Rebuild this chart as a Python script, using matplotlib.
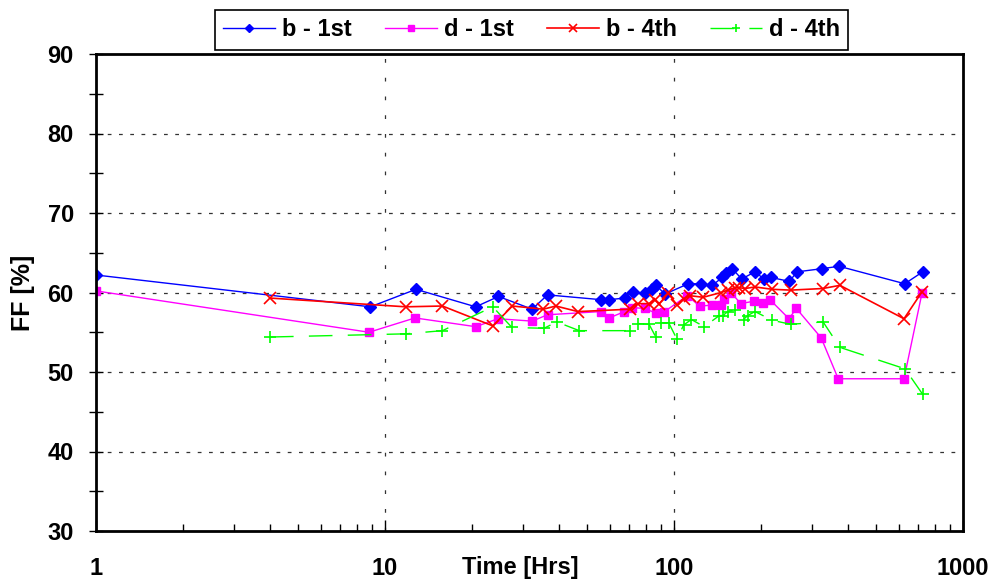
import matplotlib
matplotlib.use("Agg")
import matplotlib.pyplot as plt
from matplotlib.ticker import LogLocator, MultipleLocator, NullFormatter, FixedLocator, FuncFormatter

plt.rcParams['font.family'] = ['Liberation Sans', 'DejaVu Sans']
plt.rcParams['font.weight'] = 'bold'

# b - 1st
b1_t = [1, 8.9, 12.8, 20.6, 24.7, 32.3, 36.5, 55.8, 59.7, 67.5, 71.9, 79.2, 83.7, 86.6,
        93.1, 112, 123.7, 135.7, 147, 151.4, 159, 171.5, 190.6, 204.8, 216, 250.7, 266.6,
        325.8, 372.4, 628.7, 725.5]
b1_v = [62.2, 58.2, 60.4, 58.2, 59.5, 57.9, 59.7, 59.1, 59.1, 59.3, 60.1, 59.9, 60.4, 60.9,
        59.8, 61.1, 61.1, 60.9, 61.9, 62.5, 63.0, 61.7, 62.6, 61.7, 61.9, 61.4, 62.6,
        63.0, 63.3, 61.1, 62.6]

# d - 1st
d1_t = [1, 8.8, 12.7, 20.6, 24.6, 32.3, 36.5, 55.8, 59.7, 67.4, 71.5, 79.1, 86.6, 92.3,
        111.2, 122.6, 135, 145.6, 149.5, 157.6, 170.1, 188.7, 203.3, 214.7, 250, 265,
        323, 370, 625, 722]
d1_v = [60.2, 55.0, 56.8, 55.7, 56.7, 56.4, 57.2, 57.6, 56.8, 57.6, 58.1, 58.0, 57.4, 57.55,
        59.6, 58.3, 58.4, 58.4, 59.2, 60.0, 58.6, 58.9, 58.7, 59.1, 56.7, 58.0,
        54.3, 49.15, 49.15, 60.0]

# b - 4th
b4_t = [4, 11.8, 15.8, 23.6, 27.6, 35.3, 39.0, 46.5, 70.3, 74.8, 82, 86.2, 89, 95.5,
        102.5, 107.9, 113.4, 126.2, 145.6, 153.4, 162, 168.5, 176.2, 190.6, 219, 253.5,
        327, 375, 625, 722]
b4_v = [59.3, 58.2, 58.3, 55.8, 58.3, 57.9, 58.3, 57.6, 57.9, 58.6, 58.6, 59.1, 58.6, 59.9,
        58.4, 59.2, 59.6, 59.4, 60.0, 60.3, 60.6, 60.6, 60.5, 60.7, 60.4, 60.3,
        60.5, 60.9, 56.7, 60.1]

# d - 4th
d4_t = [4, 11.8, 15.8, 23.6, 27.5, 35.5, 39.3, 47, 70.5, 74.8, 82, 86.5, 90.2, 95.8,
        102.5, 107.9, 114.8, 127.3, 143.5, 147.6, 153.4, 162, 174, 179.8, 190.6, 219,
        253.5, 328, 375, 630, 725]
d4_v = [54.4, 54.8, 55.2, 58.2, 55.6, 55.5, 56.3, 55.2, 55.2, 56.1, 56.0, 54.4, 56.2, 56.2,
        54.1, 55.9, 56.6, 55.7, 57.1, 57.1, 57.6, 57.8, 56.6, 57.1, 57.6, 56.5,
        56.0, 56.3, 53.1, 50.4, 47.2]

fig = plt.figure(figsize=(9.92, 5.84), dpi=100)
ax = fig.add_axes([96/992, 53/584, 867/992, 477/584])

ax.plot(b1_t, b1_v, color='#0000FF', lw=1, marker='D', ms=6, label='b - 1st')
ax.plot(d1_t, d1_v, color='#FF00FF', lw=1, marker='s', ms=6, label='d - 1st')
ax.plot(b4_t, b4_v, color='#FF0000', lw=1.2, marker='x', ms=8, mew=1.2, label='b - 4th')
ax.plot(d4_t, d4_v, color='#00FF00', lw=1, marker='+', ms=9, mew=1.2,
        linestyle=(0, (17, 11)), label='d - 4th')

ax.set_xscale('log')
ax.set_xlim(1, 1000)
ax.set_ylim(30, 90)

ax.xaxis.set_major_locator(FixedLocator([1, 10, 100, 1000]))
ax.xaxis.set_major_formatter(FuncFormatter(lambda v, p: '%d' % round(v)))
ax.xaxis.set_minor_locator(LogLocator(base=10, subs=range(2, 10)))
ax.xaxis.set_minor_formatter(NullFormatter())
ax.yaxis.set_major_locator(MultipleLocator(10))
ax.yaxis.set_minor_locator(MultipleLocator(5))

ax.tick_params(axis='x', which='major', direction='in', length=8, width=1, pad=19, labelsize=17)
ax.tick_params(axis='x', which='minor', direction='in', length=5, width=1)
ax.tick_params(axis='y', which='major', direction='inout', length=10, width=1, pad=11, labelsize=17)
ax.tick_params(axis='y', which='minor', direction='inout', length=10, width=1)

for lab in ax.get_xticklabels() + ax.get_yticklabels():
    lab.set_fontweight('bold')

for s in ax.spines.values():
    s.set_linewidth(2)

# grid
for v in [40, 50, 60, 70, 80]:
    ax.axhline(v, color='#333333', lw=0.9, linestyle=(0, (3, 6)), zorder=0)
for v in [10, 100]:
    ax.axvline(v, color='#333333', lw=0.9, linestyle=(0, (3, 12)), zorder=0)

ax.set_ylabel('FF [%]', fontsize=18, fontweight='bold')
ax.yaxis.set_label_coords(-0.070, 0.5)
ax.set_xlabel('Time [Hrs]', fontsize=17, fontweight='bold')
ax.xaxis.set_label_coords(0.489, -0.052)

leg = fig.legend(loc='center', bbox_to_anchor=(0.536, 0.949), ncol=4, fontsize=17,
                 fancybox=False, framealpha=1, edgecolor='black', handlelength=2.2,
                 handletextpad=0.3, columnspacing=1.4, markerscale=0.7,
                 borderpad=0.35)
leg.get_frame().set_linewidth(1.2)
for t in leg.get_texts():
    t.set_fontweight('bold')

fig.savefig('out.png', dpi=100)
